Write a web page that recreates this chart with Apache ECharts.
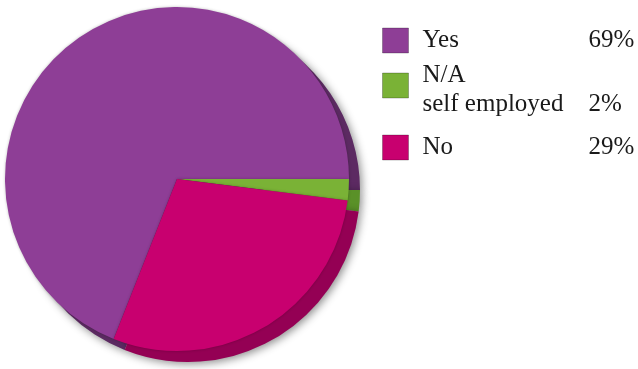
<!DOCTYPE html>
<html>
<head>
<meta charset="utf-8">
<script src="https://cdn.jsdelivr.net/npm/echarts@6/dist/echarts.min.js"></script>
<style>
html,body{margin:0;padding:0;background:#fff;}
#c{width:638px;height:369px;}
</style>
</head>
<body>
<div id="c"></div>
<script>
const categories = ['Yes', 'N/A\nself employed', 'No'];
const values = [69, 2, 29];
const percentLabels = ['69%', '2%', '29%'];
const topColors = ['#8E3E96', '#7AB236', '#C8006F'];
const sideColors = ['#5C2A62', '#5A9128', '#940054'];

const chart = echarts.init(document.getElementById('c'));

const topData = categories.map((n, i) => ({ name: n, value: values[i], itemStyle: { color: topColors[i] } }));
const sideData = categories.map((n, i) => ({ name: n, value: values[i], itemStyle: { color: sideColors[i] } }));

const FONT = 'Liberation Serif';
const legendTops = [26, 52.5, 133];
const legends = categories.map((n, i) => ({
  data: [n],
  orient: 'vertical',
  left: 382,
  top: legendTops[i],
  padding: 0,
  itemWidth: 26,
  itemHeight: 25,
  icon: 'rect',
  selectedMode: false,
  itemStyle: { borderColor: 'rgba(0,0,0,0.25)', borderWidth: 1 },
  textStyle: {
    fontFamily: FONT,
    fontSize: 25,
    color: '#1a1a1a',
    lineHeight: 29,
    rich: {
      t: { fontSize: 8, lineHeight: 8 },
      s: { width: 9 },
      n: { width: 166, fontFamily: FONT, fontSize: 25, color: '#1a1a1a', lineHeight: 29 },
      p: { fontFamily: FONT, fontSize: 25, color: '#1a1a1a', lineHeight: 29 }
    }
  },
  formatter: function (name) {
    const idx = categories.indexOf(name);
    const lines = name.split('\n');
    const body = lines.map((l, k) => '{s|}{n|' + l + '}' + (k === lines.length - 1 ? '{p|' + percentLabels[idx] + '}' : '')).join('\n');
    return lines.length > 1 ? '{t| }\n' + body : body;
  }
}));

chart.setOption({
  animation: false,
  legend: legends,
  series: [
    {
      type: 'pie',
      z: 3,
      center: [177, 179],
      radius: [0, 172],
      startAngle: 248.4,
      clockwise: true,
      silent: true,
      label: { show: false },
      labelLine: { show: false },
      itemStyle: { borderWidth: 0, shadowBlur: 3, shadowColor: 'rgba(0,0,0,0.25)' },
      data: topData
    },
    {
      type: 'pie',
      z: 1,
      center: [188, 190],
      radius: [0, 172],
      startAngle: 248.4,
      clockwise: true,
      silent: true,
      label: { show: false },
      labelLine: { show: false },
      itemStyle: { borderWidth: 0, shadowBlur: 8, shadowColor: 'rgba(0,0,0,0.45)', shadowOffsetX: 2, shadowOffsetY: 2 },
      data: sideData
    }
  ]
});
</script>
</body>
</html>
